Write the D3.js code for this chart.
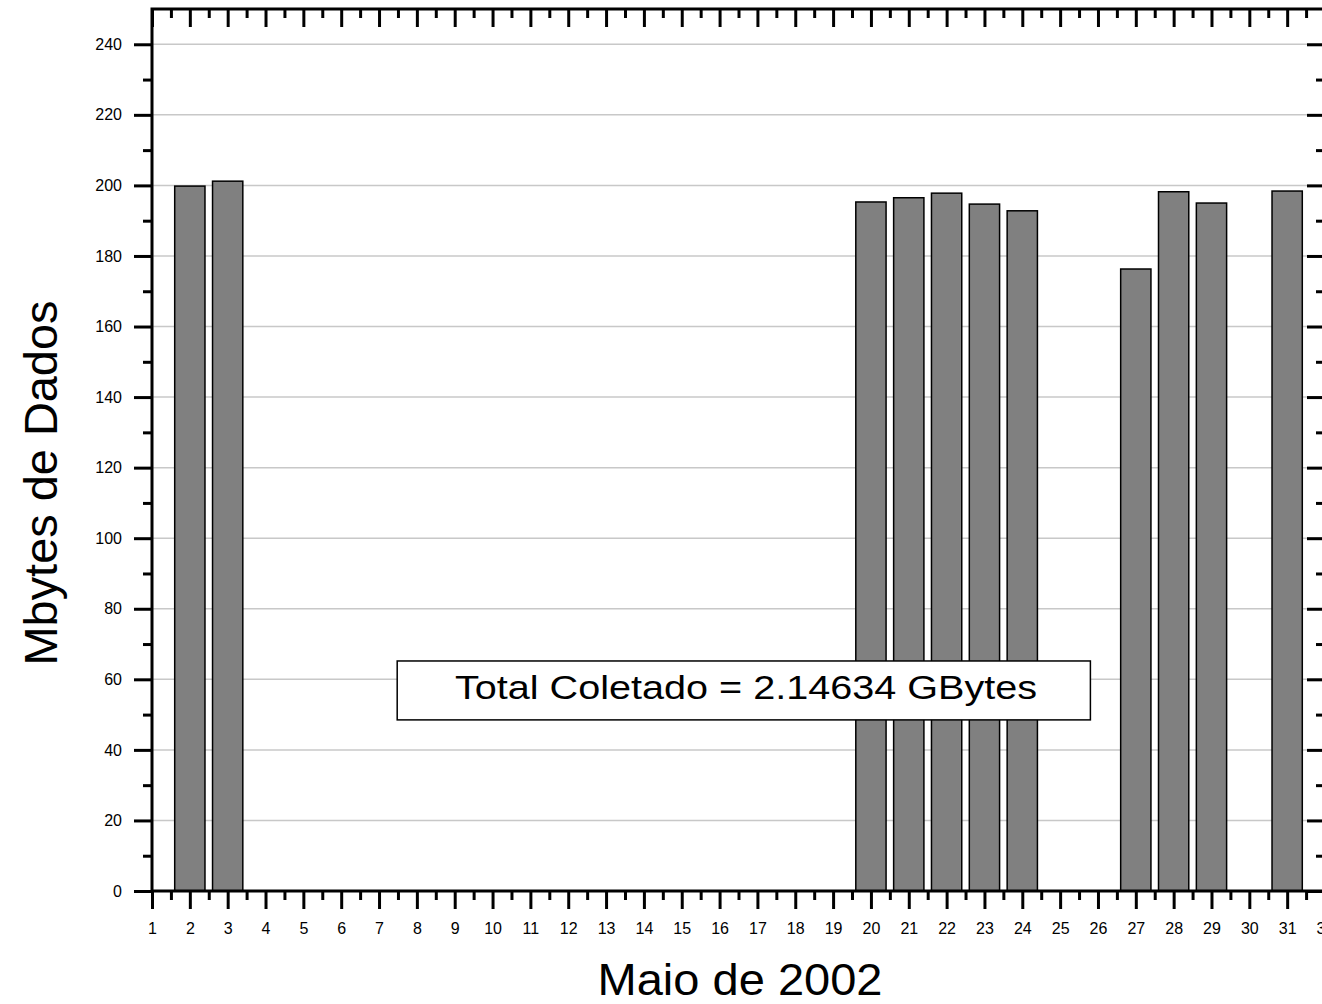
<!DOCTYPE html>
<html>
<head>
<meta charset="utf-8">
<script src="https://cdn.jsdelivr.net/npm/d3@7"></script>
<style>
	body { margin: 0; background: #fff; }
	svg { display: block; font-family: "Liberation Sans", Arial, sans-serif; }
</style>
</head>
<body>
<svg id="chart" width="1322" height="1004"></svg>
<script>
// days of May 2002 with data and the Mbytes collected that day
var days = [2, 3, 20, 21, 22, 23, 24, 27, 28, 29, 31];
var mbytes = [199.8, 201.2, 195.3, 196.5, 197.8, 194.7, 192.8, 176.3, 198.2, 195.0, 198.4];
var xTicks = d3.range(1, 33);
var yTicks = d3.range(0, 241, 20);
var totalLabel = "Total Coletado = 2.14634 GBytes";

var svg = d3.select("#chart");

var x = d3.scaleLinear().domain([1, 32]).range([152, 1325]);
var y = d3.scaleLinear().domain([0, 250]).range([891, 9]);

var data = days.map((d, i) => ({ day: d, v: mbytes[i] }));
var barW = (x(2) - x(1)) * 0.8;

// grid lines
svg.append("g")
	.selectAll("line")
	.data(yTicks.filter(d => d > 0))
	.enter()
	.append("line")
	.attr("x1", x(1))
	.attr("x2", x(32))
	.attr("y1", d => y(d))
	.attr("y2", d => y(d))
	.style("stroke", "#c8c8c8")
	.style("stroke-width", 1.5);

// bars
svg.append("g")
	.selectAll("rect")
	.data(data)
	.enter()
	.append("rect")
	.attr("x", d => x(d.day) - barW / 2)
	.attr("width", barW)
	.attr("y", d => y(d.v))
	.attr("height", d => y(0) - y(d.v))
	.style("fill", "#808080")
	.style("stroke", "#000")
	.style("stroke-width", 1.5);

// axes: majors with labels, minors without
function styleAxis(g) {
	g.select(".domain").remove();
	g.selectAll(".tick line").style("stroke", "#000").style("stroke-width", 3);
	g.selectAll(".tick text")
		.style("font-size", "16px")
		.style("font-family", "Liberation Sans, Arial, sans-serif")
		.style("fill", "#000");
}

var xMinor = d3.range(1.5, 32, 1);
var yMinor = d3.range(10, 250, 20);

svg.append("g")
	.attr("transform", "translate(0," + y(0) + ")")
	.call(d3.axisBottom(x).tickValues(xTicks).tickFormat(d3.format("d")).tickSize(18).tickPadding(14))
	.call(styleAxis);
svg.append("g")
	.attr("transform", "translate(0," + y(0) + ")")
	.call(d3.axisBottom(x).tickValues(xMinor).tickFormat("").tickSize(9))
	.call(styleAxis);

svg.append("g")
	.attr("transform", "translate(0," + y(250) + ")")
	.call(d3.axisBottom(x).tickValues(xTicks).tickFormat("").tickSize(18))
	.call(styleAxis);
svg.append("g")
	.attr("transform", "translate(0," + y(250) + ")")
	.call(d3.axisBottom(x).tickValues(xMinor).tickFormat("").tickSize(9))
	.call(styleAxis);

svg.append("g")
	.attr("transform", "translate(" + x(1) + ",0)")
	.call(d3.axisLeft(y).tickValues(yTicks).tickSize(18).tickPadding(12))
	.call(styleAxis);
svg.append("g")
	.attr("transform", "translate(" + x(1) + ",0)")
	.call(d3.axisLeft(y).tickValues(yMinor).tickFormat("").tickSize(9))
	.call(styleAxis);

svg.append("g")
	.attr("transform", "translate(" + x(32) + ",0)")
	.call(d3.axisLeft(y).tickValues(yTicks).tickFormat("").tickSize(18))
	.call(styleAxis);
svg.append("g")
	.attr("transform", "translate(" + x(32) + ",0)")
	.call(d3.axisLeft(y).tickValues(yMinor).tickFormat("").tickSize(9))
	.call(styleAxis);

// frame
svg.append("rect")
	.attr("x", x(1))
	.attr("y", y(250))
	.attr("width", x(32) - x(1))
	.attr("height", y(0) - y(250))
	.style("fill", "none")
	.style("stroke", "#000")
	.style("stroke-width", 3);

// total box
var box = svg.append("g");
box.append("rect")
	.attr("x", x(7.48))
	.attr("y", y(65.2))
	.attr("width", x(25.8) - x(7.48))
	.attr("height", y(48.5) - y(65.2))
	.style("fill", "#fff")
	.style("stroke", "#000")
	.style("stroke-width", 1.5);
// text in the reference is stretched sideways
box.append("text")
	.attr("transform", "translate(746,699) scale(1.2,1)")
	.attr("text-anchor", "middle")
	.style("font-size", "33px")
	.text(totalLabel);

// axis titles
svg.append("text")
	.attr("x", 740)
	.attr("y", 995)
	.attr("text-anchor", "middle")
	.attr("textLength", 285)
	.attr("lengthAdjust", "spacingAndGlyphs")
	.style("font-size", "45px")
	.text("Maio de 2002");

svg.append("text")
	.attr("transform", "translate(57,483) rotate(-90)")
	.attr("text-anchor", "middle")
	.attr("textLength", 365)
	.attr("lengthAdjust", "spacingAndGlyphs")
	.style("font-size", "47px")
	.text("Mbytes de Dados");
</script>
</body>
</html>
